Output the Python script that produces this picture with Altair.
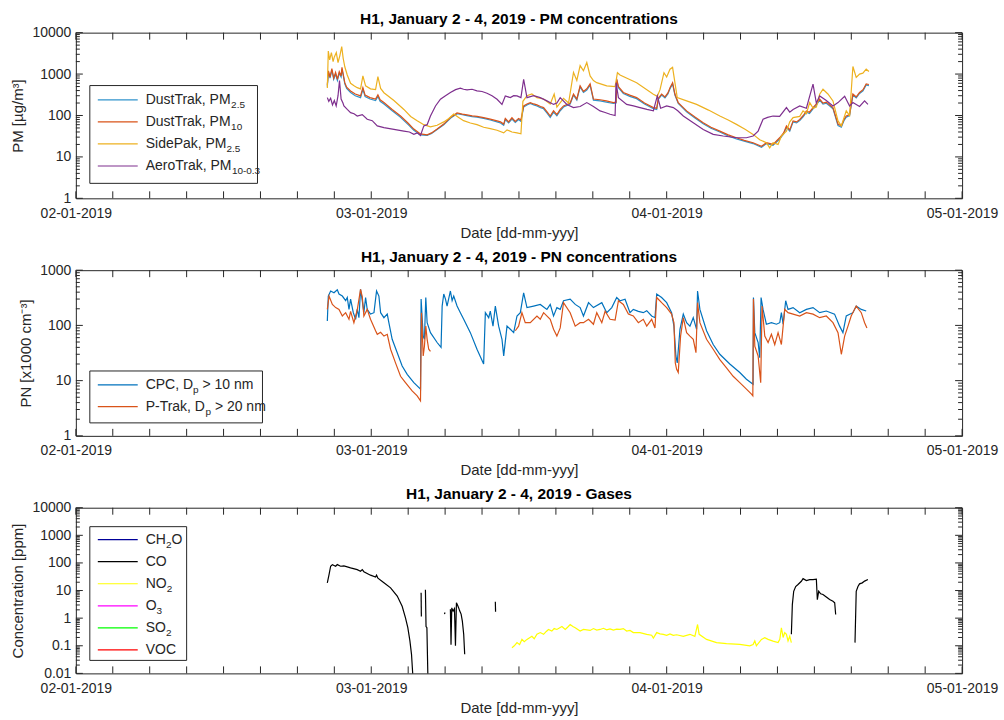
import altair as alt
import pandas as pd

# Time is given in hours after 02-01-2019 00:00.

# DustTrak: (hour, PM2.5, PM10) in µg/m³
dusttrak = [
    (20.43, 500, 550), (20.52, 1100, 1200), (20.65, 800, 850), (20.80, 1250, 1350),
    (20.95, 750, 800), (21.10, 1000, 1100), (21.25, 700, 750), (21.40, 1050, 1150),
    (21.55, 850, 900), (21.62, 1300, 1450), (21.72, 950, 1000), (21.85, 580, 620),
    (22.00, 450, 480), (22.32, 360, 390), (22.70, 300, 330), (23.13, 270, 297),
    (23.32, 430, 470), (23.50, 285, 310), (23.90, 250, 270), (24.35, 230, 250),
    (24.54, 290, 315), (24.72, 220, 240), (25.03, 190, 205), (25.70, 130, 140),
    (26.38, 90, 97), (27.00, 60, 65), (27.46, 44, 47), (28.00, 34, 36),
    (28.54, 33, 34), (28.90, 37, 38), (29.35, 46, 47), (29.89, 60, 62),
    (30.43, 86, 89), (30.97, 110, 115), (31.40, 104, 108), (31.78, 99, 103),
    (32.20, 94, 98), (32.59, 91, 95), (33.13, 85, 89), (33.67, 78, 82),
    (34.22, 70, 74), (34.50, 66, 70), (34.76, 58, 62), (34.89, 80, 85),
    (35.16, 66, 70), (35.43, 82, 88), (35.70, 68, 72), (35.97, 80, 85),
    (36.16, 72, 78), (36.38, 160, 170), (36.65, 180, 190), (36.92, 195, 205),
    (37.20, 180, 190), (37.46, 170, 180), (37.75, 155, 165), (38.00, 145, 155),
    (38.30, 112, 120), (38.54, 90, 97), (38.81, 120, 130), (39.08, 98, 105),
    (39.35, 130, 140), (39.62, 160, 170), (39.90, 175, 185), (40.16, 190, 200),
    (40.43, 310, 330), (40.70, 235, 250), (40.97, 490, 520), (41.24, 360, 380),
    (41.51, 410, 440), (41.78, 540, 580), (42.05, 235, 250), (42.59, 225, 240),
    (43.10, 210, 225), (43.67, 195, 205), (43.89, 200, 210), (43.94, 720, 770),
    (44.08, 470, 500), (44.48, 340, 360), (45.00, 290, 310), (45.56, 255, 270),
    (46.20, 190, 200), (46.92, 146, 155), (47.19, 140, 150), (47.32, 245, 260),
    (47.59, 310, 330), (47.86, 265, 280), (48.10, 330, 350), (48.27, 440, 470),
    (48.48, 580, 620), (48.67, 310, 330), (48.94, 195, 205), (49.62, 122, 129),
    (50.30, 87, 92), (50.97, 63, 67), (51.60, 49, 52), (52.32, 40, 42),
    (53.00, 32, 34), (53.67, 27, 29), (54.30, 24, 25), (55.02, 21, 22),
    (55.70, 17, 18), (56.10, 21, 22), (56.64, 19, 20), (57.18, 27, 29),
    (57.50, 36, 38), (57.73, 52, 56), (58.00, 42, 45), (58.27, 70, 74),
    (58.55, 66, 70), (58.81, 75, 80), (59.10, 94, 100), (59.35, 120, 129),
    (59.60, 112, 120), (59.89, 145, 155), (60.16, 178, 190), (60.43, 235, 250),
    (60.70, 188, 200), (60.97, 197, 210), (61.25, 170, 180), (61.51, 146, 155),
    (61.92, 57, 62), (62.19, 52, 56), (62.40, 75, 80), (62.59, 91, 97),
    (62.86, 99, 105), (63.13, 310, 330), (63.40, 265, 280), (63.67, 340, 360),
    (63.95, 395, 420), (64.21, 545, 580), (64.43, 525, 560),
]

# SidePak PM2.5: (hour, µg/m³)
sidepak = [
    (20.43, 460), (20.51, 3600), (20.62, 2200), (20.76, 3300), (20.90, 2000),
    (21.00, 2600), (21.16, 3300), (21.30, 1900), (21.45, 2800), (21.60, 4600),
    (21.72, 2400), (21.85, 1500), (22.05, 950), (22.32, 600), (22.60, 520),
    (22.86, 470), (23.13, 440), (23.32, 900), (23.54, 520), (23.94, 440),
    (24.35, 420), (24.54, 870), (24.76, 450), (25.03, 355), (25.84, 230),
    (26.65, 140), (27.20, 95), (27.73, 75), (28.27, 60), (28.81, 53),
    (29.35, 58), (29.89, 70), (30.30, 85), (30.70, 108), (31.10, 90),
    (31.50, 75), (32.05, 66), (32.59, 60), (33.13, 52), (33.67, 48),
    (34.22, 44), (34.76, 38), (35.03, 45), (35.43, 40), (35.84, 38),
    (36.16, 36), (36.32, 220), (36.65, 300), (37.05, 330), (37.46, 270),
    (38.00, 250), (38.54, 190), (38.86, 330), (39.08, 160), (39.62, 260),
    (40.03, 200), (40.43, 1100), (40.70, 700), (40.97, 1600), (41.24, 1200),
    (41.51, 1900), (41.78, 900), (42.05, 700), (42.32, 620), (43.13, 520),
    (43.81, 500), (44.00, 1080), (44.21, 950), (45.56, 620), (46.92, 325),
    (47.24, 290), (47.46, 420), (47.78, 1080), (48.00, 850), (48.27, 1310),
    (48.48, 1450), (48.67, 620), (48.86, 270), (49.62, 225), (50.43, 185),
    (51.40, 135), (52.32, 97), (53.00, 78), (53.67, 61), (54.40, 46),
    (55.02, 35), (55.56, 26), (56.10, 22), (56.37, 16.6), (56.64, 22),
    (57.05, 20), (57.32, 32), (57.73, 42), (58.00, 70), (58.27, 89),
    (58.81, 95), (59.08, 129), (59.35, 110), (59.62, 205), (59.90, 150),
    (60.16, 160), (60.43, 325), (60.70, 430), (61.10, 330), (61.51, 225),
    (61.92, 74), (62.19, 56), (62.59, 129), (62.86, 100), (63.13, 1520),
    (63.40, 830), (63.67, 1000), (63.94, 1050), (64.21, 1310), (64.43, 1150),
]

# AeroTrak PM10-0.3: (hour, µg/m³)
aerotrak = [
    (20.43, 270), (20.55, 220), (20.70, 260), (20.85, 180), (21.00, 230),
    (21.15, 170), (21.30, 300), (21.42, 700), (21.55, 250), (21.70, 200),
    (21.78, 170), (22.05, 140), (22.32, 117), (22.60, 110), (22.86, 97),
    (23.27, 105), (23.67, 81), (24.08, 75), (24.49, 56), (25.03, 51),
    (25.84, 46), (26.65, 42), (27.10, 40), (27.46, 35), (27.73, 38),
    (28.00, 33), (28.27, 56), (28.54, 60), (28.81, 97), (29.22, 170),
    (29.62, 247), (30.03, 300), (30.43, 360), (30.85, 420), (31.24, 456),
    (31.50, 430), (31.78, 415), (32.19, 430), (32.59, 393), (33.00, 380),
    (33.40, 345), (33.81, 300), (34.22, 247), (34.62, 185), (34.89, 297),
    (35.30, 270), (35.57, 300), (35.84, 297), (36.16, 270), (36.38, 750),
    (36.65, 270), (37.19, 300), (37.73, 270), (38.27, 225), (38.81, 185),
    (39.08, 200), (39.35, 270), (39.89, 185), (40.43, 155), (40.97, 165),
    (41.51, 205), (42.05, 165), (42.59, 129), (43.00, 118), (43.40, 107),
    (43.81, 100), (43.89, 620), (44.08, 270), (44.75, 185), (45.30, 170),
    (45.83, 155), (46.40, 140), (46.92, 129), (47.24, 297), (47.51, 150),
    (48.00, 170), (48.54, 155), (48.90, 130), (49.35, 97), (50.16, 67),
    (50.97, 46), (51.78, 35), (52.59, 32), (53.67, 29), (54.48, 29),
    (55.02, 32), (55.43, 42), (55.83, 81), (56.20, 90), (56.64, 97),
    (57.18, 95), (57.73, 155), (58.00, 120), (58.27, 140), (58.81, 170),
    (59.35, 150), (59.89, 570), (60.16, 200), (60.43, 297), (60.97, 230),
    (61.51, 170), (61.92, 205), (62.46, 290), (62.86, 170), (63.13, 205),
    (63.67, 165), (64.08, 225), (64.35, 185),
]

# CPC, Dp > 10 nm: (hour, x1000 cm⁻³)
cpc = [
    (20.43, 120), (20.51, 340), (20.70, 420), (20.97, 390), (21.24, 440),
    (21.38, 370), (21.65, 340), (21.92, 280), (22.05, 320), (22.19, 195),
    (22.32, 300), (22.54, 170), (22.73, 129), (22.86, 195), (23.00, 138),
    (23.13, 449), (23.27, 280), (23.40, 170), (23.54, 320), (23.67, 195),
    (23.94, 160), (24.22, 170), (24.43, 420), (24.62, 340), (24.76, 170),
    (25.03, 138), (25.30, 160), (25.43, 112), (25.70, 56), (26.11, 32),
    (26.51, 18.4), (26.92, 13), (27.46, 9.2), (28.00, 7.0), (28.05, 300),
    (28.22, 64), (28.32, 56), (28.43, 320), (28.54, 112), (28.81, 74),
    (29.35, 49), (29.67, 40), (29.76, 224), (29.89, 370), (30.03, 300),
    (30.16, 224), (30.43, 420), (30.57, 280), (30.70, 340), (30.97, 224),
    (31.24, 170), (31.51, 129), (32.05, 74), (32.59, 37), (33.13, 20),
    (33.27, 170), (33.54, 138), (33.67, 182), (33.89, 97), (34.08, 224),
    (34.35, 97), (34.62, 56), (34.76, 28), (35.03, 97), (35.30, 85),
    (35.57, 74), (35.84, 148), (36.11, 170), (36.38, 390), (36.65, 210),
    (37.19, 224), (37.73, 240), (38.27, 195), (38.54, 240), (38.81, 148),
    (39.08, 210), (39.35, 195), (39.62, 280), (40.16, 300), (40.57, 240),
    (40.97, 210), (41.24, 148), (41.65, 258), (42.05, 210), (42.73, 258),
    (43.13, 170), (43.54, 210), (43.94, 320), (44.21, 280), (44.62, 297),
    (45.02, 170), (45.29, 195), (45.70, 180), (46.10, 170), (46.38, 185),
    (46.78, 148), (47.05, 138), (47.19, 370), (47.59, 320), (48.00, 258),
    (48.40, 170), (48.59, 97), (48.75, 28), (48.86, 21), (49.08, 85),
    (49.35, 160), (49.62, 112), (49.89, 97), (50.16, 138), (50.43, 85),
    (50.51, 420), (50.70, 195), (51.24, 80), (51.78, 45), (52.32, 30),
    (53.13, 20), (53.94, 14), (54.48, 10.6), (55.02, 8.6), (55.05, 320),
    (55.16, 74), (55.43, 49), (55.56, 26), (55.67, 320), (55.83, 195),
    (56.10, 105), (56.51, 112), (56.92, 105), (57.19, 112), (57.32, 170),
    (57.46, 105), (57.67, 280), (57.86, 195), (58.27, 210), (58.81, 170),
    (59.35, 195), (59.89, 210), (60.43, 170), (60.97, 182), (61.64, 160),
    (62.05, 97), (62.32, 74), (62.59, 148), (63.13, 170), (63.40, 224),
    (63.81, 195), (64.21, 182),
]

# P-Trak, Dp > 20 nm: recorded in two separate runs, (hour, x1000 cm⁻³)
ptrak_run1 = [
    (20.43, 195), (20.57, 340), (20.84, 240), (21.11, 210), (21.38, 195),
    (21.65, 148), (21.92, 170), (22.19, 129), (22.32, 180), (22.59, 112),
    (22.86, 190), (23.13, 449), (23.27, 330), (23.40, 148), (23.67, 195),
    (23.94, 129), (24.35, 80), (24.49, 69), (24.76, 75), (25.03, 64),
    (25.30, 69), (25.57, 37), (25.97, 21), (26.38, 12), (26.78, 9.2),
    (27.32, 6.5), (27.73, 5.3), (28.00, 4.3), (28.08, 170), (28.22, 28),
    (28.32, 42), (28.43, 97), (28.54, 56), (28.67, 37), (28.81, 34),
]
ptrak_run2 = [
    (35.70, 80), (35.97, 97), (36.24, 170), (36.51, 112), (36.92, 112),
    (37.46, 148), (37.73, 129), (38.00, 170), (38.54, 129), (38.81, 85),
    (39.08, 64), (39.35, 90), (39.62, 258), (40.16, 170), (40.57, 97),
    (40.97, 112), (41.24, 112), (41.65, 129), (42.05, 105), (42.32, 170),
    (42.73, 112), (43.00, 180), (43.40, 129), (43.81, 125), (44.08, 280),
    (44.48, 240), (44.89, 160), (45.29, 148), (45.70, 112), (46.10, 129),
    (46.38, 97), (46.78, 129), (47.05, 90), (47.19, 320), (47.59, 258),
    (48.00, 210), (48.40, 160), (48.59, 112), (48.70, 21), (48.81, 16),
    (48.94, 14), (49.13, 64), (49.35, 138), (49.62, 74), (49.89, 64),
    (50.16, 56), (50.38, 32), (50.51, 258), (50.70, 112), (51.24, 56),
    (51.78, 37), (52.32, 24), (52.86, 17), (53.40, 12), (53.94, 9.2),
    (54.48, 7.0), (54.89, 5.7), (55.00, 5.3), (55.05, 300), (55.16, 42),
    (55.43, 28), (55.64, 9.2), (55.75, 224), (55.97, 64), (56.24, 49),
    (56.51, 69), (56.78, 45), (57.05, 74), (57.32, 45), (57.59, 195),
    (57.86, 170), (58.27, 160), (58.81, 148), (59.35, 170), (59.89, 160),
    (60.43, 138), (60.97, 148), (61.51, 112), (61.92, 74), (62.19, 30),
    (62.46, 64), (62.73, 97), (62.99, 148), (63.40, 224), (63.81, 170),
    (64.08, 112), (64.27, 90),
]

# CO in ppm, one list per uninterrupted stretch of readings
co_runs = [
    [(20.43, 19), (20.57, 38), (20.70, 76), (20.84, 87), (21.11, 76), (21.24, 87),
     (21.51, 76), (21.78, 78), (22.32, 66), (22.86, 57), (23.13, 50), (23.27, 57),
     (23.40, 48), (23.94, 36), (24.35, 31), (24.43, 36), (24.54, 28), (25.03, 19),
     (25.57, 12.5), (26.11, 6.3), (26.51, 2.7), (26.78, 1.03), (26.97, 0.45),
     (27.14, 0.15), (27.27, 0.049), (27.38, 0.008)],
    [(28.05, 8.4), (28.07, 1.15)],
    [(28.40, 10.7), (28.45, 0.5), (28.52, 0.45), (28.60, 0.008)],
    [(29.95, 1.4), (29.99, 1.6)],
    [(30.43, 2.1), (30.48, 0.11), (30.54, 2.36), (30.65, 1.8), (30.76, 2.2),
     (30.84, 0.1), (30.92, 3.6), (31.03, 2.8), (31.11, 2.3), (31.19, 1.8),
     (31.30, 1.4), (31.40, 0.78), (31.51, 0.26), (31.59, 0.049)],
    [(34.08, 3.9), (34.10, 1.7)],
    [(58.13, 0.26), (58.21, 3.1), (58.32, 9.4), (58.48, 14), (58.67, 16.5),
     (58.94, 21.7), (59.08, 27), (59.35, 23), (59.62, 25), (59.89, 25),
     (60.16, 26), (60.24, 4.7), (60.35, 9.4), (60.51, 7.6), (60.70, 7.2),
     (60.97, 5.8), (61.24, 4.7), (61.51, 4.1), (61.65, 3.6), (61.73, 1.36)],
    [(63.30, 0.13), (63.40, 9.4), (63.54, 14), (63.67, 17.5), (63.89, 19),
     (64.08, 22), (64.35, 25)],
]

# NO2 in ppm
no2 = [
    (35.43, 0.085), (35.62, 0.1), (35.84, 0.13), (36.05, 0.11), (36.24, 0.17),
    (36.43, 0.14), (36.65, 0.17), (37.05, 0.22), (37.24, 0.18), (37.46, 0.26),
    (37.73, 0.3), (38.00, 0.26), (38.22, 0.33), (38.40, 0.39), (38.67, 0.34),
    (38.86, 0.42), (39.08, 0.39), (39.49, 0.5), (39.76, 0.39), (39.95, 0.47),
    (40.16, 0.59), (40.38, 0.5), (40.57, 0.45), (40.97, 0.34), (41.24, 0.39),
    (41.78, 0.36), (42.05, 0.42), (42.32, 0.37), (42.59, 0.39), (42.86, 0.43),
    (43.13, 0.38), (43.40, 0.41), (43.67, 0.37), (43.94, 0.4), (44.21, 0.39),
    (44.48, 0.42), (44.75, 0.34), (45.02, 0.36), (45.29, 0.3), (45.83, 0.3),
    (46.38, 0.26), (46.78, 0.24), (46.92, 0.19), (47.19, 0.3), (47.46, 0.27),
    (47.73, 0.26), (48.00, 0.24), (48.27, 0.27), (48.54, 0.24), (48.81, 0.25),
    (49.35, 0.22), (49.89, 0.26), (50.29, 0.22), (50.51, 0.59), (50.64, 0.26),
    (51.24, 0.17), (52.05, 0.13), (52.86, 0.12), (53.94, 0.112), (54.75, 0.1),
    (55.02, 0.11), (55.16, 0.15), (55.29, 0.1), (55.70, 0.17), (55.97, 0.195),
    (56.24, 0.17), (56.64, 0.147), (57.05, 0.13), (57.19, 0.17), (57.32, 0.45),
    (57.46, 0.2), (57.59, 0.3), (57.73, 0.26), (57.86, 0.15), (58.00, 0.22),
    (58.13, 0.13),
]

# Legend entries: label pieces as (text, is_subscript), and the line colour
pm_legend = [([("DustTrak, PM", False), ("2.5", True)], "#3093CC"),
             ([("DustTrak, PM", False), ("10", True)], "#D95319"),
             ([("SidePak, PM", False), ("2.5", True)], "#EDB120"),
             ([("AeroTrak, PM", False), ("10-0.3", True)], "#7E2F8E")]
pn_legend = [([("CPC, D", False), ("p", True), (" > 10 nm", False)], "#0072BD"),
             ([("P-Trak, D", False), ("p", True), (" > 20 nm", False)], "#D95319")]
gas_legend = [([("CH", False), ("2", True), ("O", False)], "#000099"),
              ([("CO", False)], "#000000"),
              ([("NO", False), ("2", True)], "#FFFF00"),
              ([("O", False), ("3", True)], "#FF00FF"),
              ([("SO", False), ("2", True)], "#00FF00"),
              ([("VOC", False)], "#FF0000")]

W, H = 888, 166
FONT = "Liberation Sans"
INK = "#262626"
TEXT_SIZE, SUB_SIZE, SUB_DROP = 14, 10, 5

# advance widths (1/1000 em) of Liberation Sans, used to place subscripts after text
ADVANCE = {" ": 278, ",": 278, "-": 333, ".": 278, ">": 584,
           "A": 667, "C": 722, "D": 722, "H": 722, "M": 833, "N": 722, "O": 778,
           "P": 667, "S": 667, "T": 611, "V": 667,
           "a": 556, "d": 556, "e": 556, "i": 222, "k": 500, "m": 833, "n": 556,
           "o": 556, "p": 556, "r": 333, "s": 500, "t": 278, "u": 556}


def text_width(s, size):
    return sum(ADVANCE.get(c, 556) for c in s) * size / 1000


x_scale = alt.Scale(domain=[0, 72], nice=False, zero=False)
x_axis = alt.Axis(
    values=[0, 24, 48, 72],
    labelExpr="timeFormat(datetime(2019, 0, 2 + datum.value / 24), '%d-%m-%Y')",
    title="Date [dd-mm-yyy]", labelFlush=False, labelOverlap=False,
    labelPadding=8, titleY=39, titleBaseline="alphabetic",
)


def frame(rows, seg=0):
    return pd.DataFrame({"h": [r[0] for r in rows], "v": [r[1] for r in rows], "seg": seg})


def panel(title, y_title, exps, title_x, series, legend, box, row0, gap):
    lo, hi = exps
    majors = [10.0 ** e for e in range(lo, hi + 1)]
    minors = [k * 10.0 ** e for e in range(lo, hi) for k in range(2, 10)]
    y_scale = alt.Scale(type="log", domain=[majors[0], majors[-1]], nice=False)
    y_axis = alt.Axis(values=majors, labelExpr="toString(datum.value)", title=y_title,
                      labelPadding=5, labelFlush=False, labelOverlap=False,
                      titleX=title_x, titleY=H / 2, titleBaseline="alphabetic")
    X = alt.X("h:Q", scale=x_scale, axis=x_axis)
    Y = alt.Y("v:Q", scale=y_scale, axis=y_axis)

    layers = []
    for df, color in series:
        layers.append(alt.Chart(df).mark_line(color=color, strokeWidth=1.2, clip=True)
                      .encode(x=X, y=Y, detail="seg:N"))

    # inward ticks on all four sides
    xt = pd.DataFrame({"h": list(range(0, 73, 3))})
    for a, b in [(0, 7), (H, H - 7)]:
        layers.append(alt.Chart(xt).mark_rule(color=INK, strokeWidth=1)
                      .encode(x=X, y=alt.value(a), y2=alt.value(b)))
    for vals, ln in [(majors, 7), (minors, 4)]:
        yt = pd.DataFrame({"v": vals})
        for a, b in [(0, ln), (W, W - ln)]:
            layers.append(alt.Chart(yt).mark_rule(color=INK, strokeWidth=1)
                          .encode(y=Y, x=alt.value(a), x2=alt.value(b)))

    # boxed legend
    one = pd.DataFrame({"k": [0]})
    x0, x1, y0, y1 = box
    layers.append(alt.Chart(one).mark_rect(fill="white", stroke=INK, strokeWidth=1)
                  .encode(x=alt.value(x0), x2=alt.value(x1), y=alt.value(y0), y2=alt.value(y1)))
    for i, (pieces, color) in enumerate(legend):
        yy = row0 + i * gap
        layers.append(alt.Chart(one).mark_rule(color=color, strokeWidth=1.2)
                      .encode(x=alt.value(22), x2=alt.value(62), y=alt.value(yy)))
        tx = 70.0
        for text, sub in pieces:
            size = SUB_SIZE if sub else TEXT_SIZE
            shown = text.lstrip(" ")
            tx += text_width(text[: len(text) - len(shown)], size)  # SVG drops leading blanks
            layers.append(alt.Chart(one).mark_text(text=shown, align="left", baseline="middle",
                                                   font=FONT, fontSize=size, color=INK)
                          .encode(x=alt.value(tx), y=alt.value(yy + (SUB_DROP if sub else 0))))
            tx += text_width(shown, size)

    return alt.layer(*layers).properties(
        width=W, height=H,
        title=alt.TitleParams(title, anchor="middle", frame="group", offset=-2,
                              font=FONT, fontSize=15.5, fontWeight="bold", color="black"),
    )


dt = pd.DataFrame(dusttrak, columns=["h", "pm25", "pm10"])
p1 = panel(
    "H1, January 2 - 4, 2019 - PM concentrations", "PM [µg/m³]", (0, 4), -53,
    [(frame(list(zip(dt.h, dt.pm25))), "#3093CC"),
     (frame(list(zip(dt.h, dt.pm10))), "#D95319"),
     (frame(sidepak), "#EDB120"),
     (frame(aerotrak), "#7E2F8E")],
    pm_legend, (14, 182, 53, 151), 67.3, 22.1,
)
p2 = panel(
    "H1, January 2 - 4, 2019 - PN concentrations", "PN [x1000 cm⁻³]", (0, 3), -45,
    [(frame(cpc), "#0072BD"),
     (pd.concat([frame(ptrak_run1, 0), frame(ptrak_run2, 1)]), "#D95319")],
    pn_legend, (14, 187, 101, 153), 115, 21.7,
)
p3 = panel(
    "H1, January 2 - 4, 2019 - Gases", "Concentration [ppm]", (-2, 4), -53,
    [(pd.concat([frame(r, i) for i, r in enumerate(co_runs)]), "#000000"),
     (frame(no2), "#FFFF00")],
    gas_legend, (14, 111, 19, 153), 32, 22.1,
)

chart = (
    alt.vconcat(p1, p2, p3, spacing=72, bounds="flush")
    .properties(padding={"left": 10, "top": 11, "right": 5, "bottom": 5})
    .configure_view(stroke=INK, strokeWidth=1)
    .configure_axis(domain=False, ticks=False, grid=False, labelFont=FONT, labelFontSize=14,
                    labelColor=INK, titleFont=FONT, titleFontSize=15, titleColor=INK,
                    titleFontWeight="normal")
)

chart.save("out.html", embed_options={"renderer": "svg", "actions": False})
